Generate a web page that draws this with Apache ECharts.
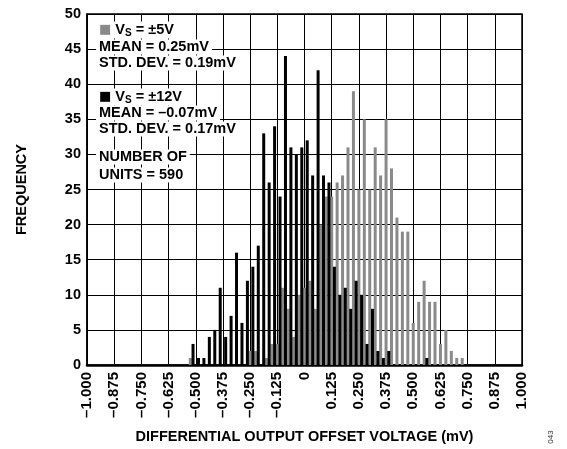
<!DOCTYPE html>
<html>
<head>
<meta charset="utf-8">
<script src="https://cdn.jsdelivr.net/npm/echarts@6/dist/echarts.min.js"></script>
<style>
  html, body { margin: 0; padding: 0; background: #fff; }
  #chart { width: 567px; height: 449px; }
</style>
</head>
<body>
<div id="chart"></div>
<script>
// VS = ±5V histogram (gray), bin centres in mV
var binsVs5 = [-0.525, -0.25, -0.225, -0.2, -0.175, -0.15, -0.125, -0.1, -0.075, -0.05, -0.025,
  0, 0.025, 0.05, 0.075, 0.1, 0.125, 0.15, 0.175, 0.2, 0.225, 0.25, 0.275, 0.3, 0.325,
  0.35, 0.375, 0.4, 0.425, 0.45, 0.475, 0.5, 0.525, 0.55, 0.575, 0.6, 0.625, 0.65, 0.675,
  0.7, 0.725];
var countsVs5 = [1, 2, 2, 0, 1, 3, 3, 11, 8, 4, 10,
  11, 12, 8, 20, 24, 24, 26, 27, 31, 39, 25, 35, 25, 31,
  27, 35, 28, 21, 19, 19, 6, 9, 12, 9, 9, 3, 5, 2,
  1, 1];

// VS = ±12V histogram (black)
var binsVs12 = [-0.5125, -0.4875, -0.4625, -0.4375, -0.4125, -0.3875, -0.3625, -0.3375, -0.3125,
  -0.2875, -0.2625, -0.2375, -0.2125, -0.1875, -0.1625, -0.1375, -0.1125, -0.0875, -0.0625,
  -0.0375, -0.0125, 0.0125, 0.0375, 0.0625, 0.0875, 0.1125, 0.1375, 0.1625, 0.1875, 0.2125,
  0.2375, 0.2625, 0.2875, 0.3125, 0.3375, 0.3625, 0.3875, 0.5625];
var countsVs12 = [3, 1, 1, 4, 5, 11, 4, 7, 16,
  6, 12, 14, 17, 33, 26, 34, 24, 44, 31,
  30, 31, 32, 27, 42, 27, 26, 14, 10, 11, 8,
  12, 10, 3, 8, 2, 1, 2, 1];

var xTickLabels = ['\u20131.000', '\u20130.875', '\u20130.750', '\u20130.625', '\u20130.500', '\u20130.375',
  '\u20130.250', '\u20130.125', '0', '0.125', '0.250', '0.375', '0.500', '0.625', '0.750', '0.875', '1.000'];

var legendLines = [
  '{sq5|\u25A0} V{sub|S} = \u00B15V',
  'MEAN = 0.25mV',
  'STD. DEV. = 0.19mV',
  '{sq12|\u25A0} V{sub|S} = \u00B112V',
  'MEAN = \u20130.07mV',
  'STD. DEV. = 0.17mV',
  'NUMBER OF',
  'UNITS = 590'
];
var legendY = [30, 47, 63, 97, 113, 129, 157, 175];

var FONT = '"Liberation Sans", Arial, Helvetica, sans-serif';
var GRAY = '#8a8a8a';

var chart = echarts.init(document.getElementById('chart'));

var graphics = legendLines.map(function (t, i) {
  return {
    type: 'text',
    z: 100,
    style: {
      x: 96,
      y: legendY[i],
      text: t,
      fill: '#000',
      fontFamily: FONT,
      fontWeight: 'bold',
      fontSize: 14.5,
      verticalAlign: 'middle',
      backgroundColor: '#fff',
      padding: [0, 3, 0, 3],
      rich: {
        sq5: { fill: GRAY, fontSize: 13, fontFamily: 'DejaVu Sans', lineHeight: 17 },
        sq12: { fill: '#000', fontSize: 13, fontFamily: 'DejaVu Sans', lineHeight: 17 },
        sub: { fontSize: 10, fontWeight: 'bold', fontFamily: FONT, verticalAlign: 'bottom', lineHeight: 17 }
      }
    }
  };
});
graphics.push({
  type: 'text',
  x: 551,
  y: 437,
  rotation: Math.PI / 2,
  style: {
    text: '043',
    fill: '#333',
    fontFamily: FONT,
    fontSize: 8,
    align: 'center',
    verticalAlign: 'middle'
  }
});

var option = {
  animation: false,
  backgroundColor: '#fff',
  grid: {
    left: 87, right: 45, top: 14, bottom: 84,
    show: true, borderColor: '#000', borderWidth: 1.5
  },
  xAxis: {
    type: 'value',
    min: -1, max: 1, interval: 0.125,
    name: 'DIFFERENTIAL OUTPUT OFFSET VOLTAGE (mV)',
    nameLocation: 'middle',
    nameGap: 64,
    nameTextStyle: { fontFamily: FONT, fontWeight: 'bold', fontSize: 14.5, color: '#000' },
    axisLine: { show: true, onZero: false, lineStyle: { color: '#000', width: 2.5 } },
    axisTick: { show: false },
    axisLabel: {
      rotate: 90, margin: 7, color: '#000',
      fontFamily: FONT, fontWeight: 'bold', fontSize: 15,
      formatter: function (v, i) { return xTickLabels[i]; }
    },
    splitLine: { show: true, lineStyle: { color: '#000', width: 1 } }
  },
  yAxis: {
    type: 'value',
    min: 0, max: 50, interval: 5,
    name: 'FREQUENCY',
    nameLocation: 'middle',
    nameGap: 58,
    nameTextStyle: { fontFamily: FONT, fontWeight: 'bold', fontSize: 14.5, color: '#000' },
    axisLine: { show: true, onZero: false, lineStyle: { color: '#000', width: 1.5 } },
    axisTick: { show: false },
    axisLabel: { margin: 6, color: '#000', fontFamily: FONT, fontWeight: 'bold', fontSize: 14.5 },
    splitLine: { show: true, lineStyle: { color: '#000', width: 1 } }
  },
  graphic: graphics,
  series: [
    {
      name: 'VS = ±5V',
      type: 'bar',
      data: binsVs5.map(function (b, i) { return [b, countsVs5[i]]; }),
      barWidth: 3,
      barGap: '-100%',
      itemStyle: { color: GRAY },
      z: 2
    },
    {
      name: 'VS = ±12V',
      type: 'bar',
      data: binsVs12.map(function (b, i) { return [b, countsVs12[i]]; }),
      barWidth: 3,
      barGap: '-100%',
      itemStyle: { color: '#000' },
      z: 3
    }
  ]
};
chart.setOption(option);
</script>
</body>
</html>
